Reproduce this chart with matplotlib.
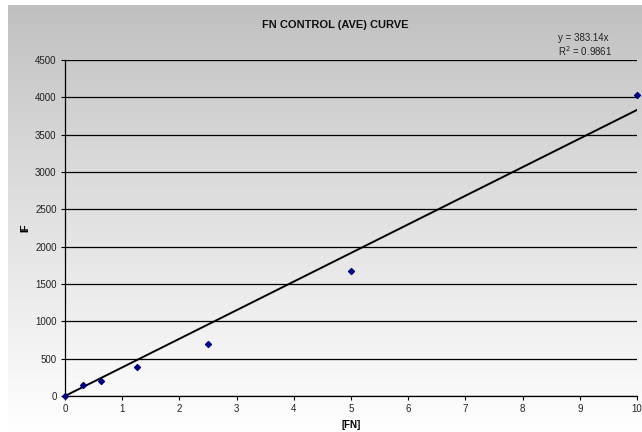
import numpy as np
import matplotlib
matplotlib.use("Agg")
import matplotlib.pyplot as plt

plt.rcParams['font.family'] = ['Liberation Sans', 'DejaVu Sans']

# FN concentration vs. measured intensity
fn_conc = [0, 0.3125, 0.625, 1.25, 2.5, 5, 10]
intensity = [0, 152, 201, 392, 692, 1675, 4027]

# linear trendline forced through the origin
slope = 383.14
r_squared = 0.9861

x_ticks = [0, 1, 2, 3, 4, 5, 6, 7, 8, 9, 10]
y_ticks = [0, 500, 1000, 1500, 2000, 2500, 3000, 3500, 4000, 4500]

fig = plt.figure(figsize=(6.42, 4.32), dpi=100)

# chart-area background: gray at the top fading to white at the bottom
bg = fig.add_axes([8 / 642, 0, 1 - 8 / 642, 1 - 5 / 432], zorder=0)
grad = np.linspace(0, 1, 256).reshape(-1, 1)
top = np.array([0.75, 0.75, 0.75])
bottom = np.array([1.0, 1.0, 1.0])
img = top + (bottom - top) * grad[..., None] ** 0.9
bg.imshow(img, aspect='auto', extent=[0, 1, 0, 1], origin='upper')
bg.axis('off')

left, right = 65 / 642, 637 / 642
bot, topy = 1 - 396 / 432, 1 - 60 / 432
ax = fig.add_axes([left, bot, right - left, topy - bot], zorder=1)
ax.patch.set_alpha(0)

ax.set_xlim(0, 10)
ax.set_ylim(0, 4500)
ax.set_xticks(x_ticks)
ax.set_yticks(y_ticks)
ax.tick_params(axis='both', labelsize=7, length=3, width=0.8, color='black',
               labelcolor='#222222', pad=3)
ax.grid(axis='y', color='black', linewidth=0.9)
ax.set_axisbelow(True)
for s in ['top', 'right']:
    ax.spines[s].set_visible(False)
for s in ['left', 'bottom']:
    ax.spines[s].set_color('black')
    ax.spines[s].set_linewidth(0.9)

line_x = np.array([0, 10])
ax.plot(line_x, slope * line_x, color='black', linewidth=1.4, zorder=3)
ax.scatter(fn_conc, intensity, marker='D', s=9, color='#000080', zorder=4,
           clip_on=False)

ax.set_xlabel('[FN]', fontsize=7, fontweight='bold', labelpad=4)
ax.set_ylabel('IF', fontsize=7, fontweight='bold')
ax.yaxis.set_label_coords((30 - 65) / 572, 0.5)

fig.text(335 / 642, 1 - 25 / 432, 'FN CONTROL (AVE) CURVE', ha='center',
         va='center', fontsize=8, fontweight='bold', color='#111111')
fig.text(558 / 642, 1 - 38 / 432, f'y = {slope:.2f}x', fontsize=7,
         va='center', color='#222222')
fig.text(558 / 642, 1 - 51 / 432, f'R$^2$ = {r_squared:.4f}', fontsize=7,
         va='center', color='#222222')

fig.savefig('out.png', dpi=100)
